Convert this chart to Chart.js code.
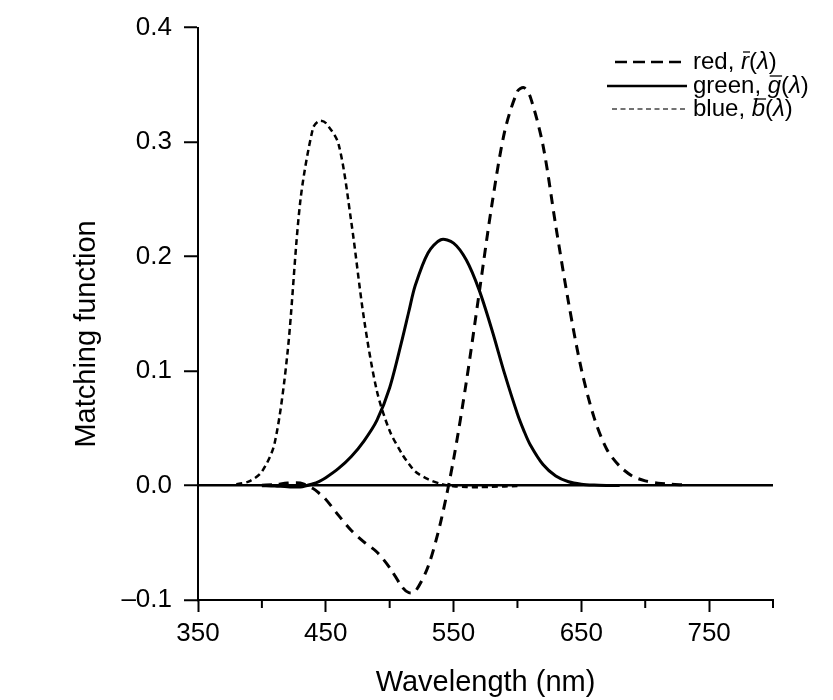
<!DOCTYPE html>
<html><head><meta charset="utf-8">
<script src="https://cdn.jsdelivr.net/npm/chart.js@4.4.1/dist/chart.umd.min.js"></script>
<style>html,body{margin:0;padding:0;background:#fff}canvas{display:block}</style>
</head><body>
<canvas id="c" width="833" height="700"></canvas>
<script>
// ---- data ----
const wavelengths = [380,390,400,410,420,430,440,445,450,460,470,480,490,500,510,515,520,530,540,550,560,570,580,590,600,605,610,620,630,640,650,660,670,680,690,700,710,720,730];
const redValues = [null,null,0.0003,0.0008,0.0021,0.0022,-0.0026,-0.0070,-0.0121,-0.0261,-0.0393,-0.0494,-0.0581,-0.0717,-0.0890,-0.0936,-0.0926,-0.0710,-0.0315,0.0228,0.0906,0.1677,0.2453,0.3093,0.3443,0.3476,0.3397,0.2971,0.2268,0.1597,0.1017,0.0593,0.0315,0.0169,0.0082,0.0041,0.0021,0.0011,0.0005];
const greenValues = [null,null,-0.0001,-0.0004,-0.0011,-0.0012,0.0015,0.0037,0.0068,0.0149,0.0254,0.0391,0.0569,0.0854,0.1286,0.1520,0.1747,0.2032,0.2147,0.2118,0.1970,0.1709,0.1361,0.0975,0.0625,0.0480,0.0356,0.0183,0.0083,0.0033,0.0012,0.0004,0.0001,0.0000,null,null,null,null,null];
const blueValues = [0.0012,0.0036,0.0121,0.0371,0.1154,0.2477,0.3123,0.3186,0.3167,0.2982,0.2299,0.1449,0.0826,0.0478,0.0270,0.0190,0.0122,0.0055,0.0015,-0.0006,-0.0013,-0.0014,-0.0011,-0.0008,-0.0005,null,null,null,null,null,null,null,null,null,null,null,null,null,null];
const xMajorTicks = [350,450,550,650,750];
const xMinorTicks = [400,500,600,700,800];
const yTickValues = [-0.1,0.0,0.1,0.2,0.3,0.4];
const yTickLabels = ['\u20130.1','0.0','0.1','0.2','0.3','0.4'];
const seriesNames = ['red','green','blue'];
const seriesSymbols = ['r','g','b'];
const xTitle = 'Wavelength (nm)';
const yTitle = 'Matching function';

const FONT = "'Liberation Sans', Arial, Helvetica, sans-serif";

function toPoints(vals){
  const out = [];
  wavelengths.forEach((w,i)=>{ if (vals[i] !== null) out.push({x:w, y:vals[i]}); });
  return out;
}

const legendPlugin = {
  id: 'decor',
  afterDraw(chart){
    const ctx = chart.ctx, xs = chart.scales.x, area = chart.chartArea;
    ctx.save();
    // minor x ticks (shorter)
    ctx.strokeStyle = '#000'; ctx.lineWidth = 2; ctx.setLineDash([]);
    xMinorTicks.forEach(v=>{
      const px = xs.getPixelForValue(v);
      ctx.beginPath(); ctx.moveTo(px, area.bottom); ctx.lineTo(px, area.bottom + 8); ctx.stroke();
    });
    // legend
    const rowY = [62, 86, 109];
    const lineStart = [615, 607, 612];
    const lineEnd = [687, 687, 685];
    const lineW = [2.5, 2.5, 1.6];
    const lineDash = [[12, 6], [], [5, 3.5]];
    const lineCol = ['#000', '#000', '#444'];
    const textX = 693;
    const fs = 24;
    chart.data.datasets.forEach((ds, i)=>{
      const y = rowY[i];
      ctx.save();
      ctx.strokeStyle = lineCol[i];
      ctx.lineWidth = lineW[i];
      ctx.setLineDash(lineDash[i]);
      ctx.beginPath(); ctx.moveTo(lineStart[i], y); ctx.lineTo(lineEnd[i], y); ctx.stroke();
      ctx.restore();
      ctx.fillStyle = '#000';
      ctx.textBaseline = 'middle';
      ctx.textAlign = 'left';
      let x = textX;
      const normal = fs + 'px ' + FONT;
      const italic = 'italic ' + fs + 'px ' + FONT;
      const parts = [[seriesNames[i] + ', ', normal], [seriesSymbols[i], italic, true], ['(', normal], ['\u03bb', italic], [')', normal]];
      parts.forEach(p=>{
        ctx.font = p[1];
        ctx.fillText(p[0], x, y);
        const w = ctx.measureText(p[0]).width;
        if (p[2]) {
          ctx.save(); ctx.strokeStyle = '#000'; ctx.lineWidth = 1.3; ctx.setLineDash([]);
          ctx.beginPath(); ctx.moveTo(x + 2, y - 10); ctx.lineTo(x + w + 1, y - 10); ctx.stroke();
          ctx.restore();
        }
        x += w;
      });
    });
    ctx.restore();
  }
};

new Chart(document.getElementById('c'), {
  type: 'line',
  data: {
    datasets: [
      { label: 'red', data: toPoints(redValues), borderColor: '#000', borderWidth: 3, borderDash: [10, 7], pointRadius: 0, fill: false, tension: 0.3 },
      { label: 'green', data: toPoints(greenValues), borderColor: '#000', borderWidth: 3, pointRadius: 0, fill: false, tension: 0.3 },
      { label: 'blue', data: toPoints(blueValues), borderColor: '#000', borderWidth: 2.5, borderDash: [6, 4], pointRadius: 0, fill: false, tension: 0.3 }
    ]
  },
  options: {
    responsive: false,
    animation: false,
    devicePixelRatio: 1,
    layout: { padding: { top: 22, right: 60, left: 0, bottom: 0 } },
    plugins: { legend: { display: false }, tooltip: { enabled: false } },
    scales: {
      x: {
        type: 'linear', min: 350, max: 800,
        afterBuildTicks(scale){ scale.ticks = xMajorTicks.concat(xMinorTicks).sort((a,b)=>a-b).map(v=>({value:v})); },
        afterFit(scale){ scale.height = 100; },
        ticks: {
          autoSkip: false, maxRotation: 0, padding: 6, color: '#000',
          font: { family: FONT, size: 26 },
          callback: (v)=> xMajorTicks.includes(v) ? String(v) : ''
        },
        grid: {
          drawOnChartArea: false, drawTicks: true, tickLength: 12, tickWidth: 2,
          tickColor: (c)=> (c.tick && xMajorTicks.includes(c.tick.value)) ? '#000' : 'rgba(0,0,0,0)'
        },
        border: { display: true, color: '#000', width: 2 },
        title: { display: true, text: xTitle, color: '#000', font: { family: FONT, size: 29 }, padding: { top: 0, bottom: 0 } }
      },
      y: {
        type: 'linear', min: -0.1, max: 0.4,
        afterBuildTicks(scale){ scale.ticks = yTickValues.map(v=>({value:v})); },
        afterFit(scale){ scale.width = 198; },
        ticks: {
          padding: 12, color: '#000',
          font: { family: FONT, size: 26 },
          callback: (v)=> { const i = yTickValues.findIndex(t=>Math.abs(t-v)<1e-9); return i >= 0 ? yTickLabels[i] : ''; }
        },
        grid: {
          drawOnChartArea: true, drawTicks: true, tickLength: 14, tickWidth: 2, tickColor: '#000',
          lineWidth: 2.5,
          color: (c)=> (c.tick && Math.abs(c.tick.value) < 1e-9) ? '#000' : 'rgba(0,0,0,0)'
        },
        border: { display: true, color: '#000', width: 2 },
        title: { display: true, text: yTitle + '     ', color: '#000', font: { family: FONT, size: 29 }, padding: { top: 70, bottom: 0 } }
      }
    }
  },
  plugins: [legendPlugin]
});
</script>
</body></html>
